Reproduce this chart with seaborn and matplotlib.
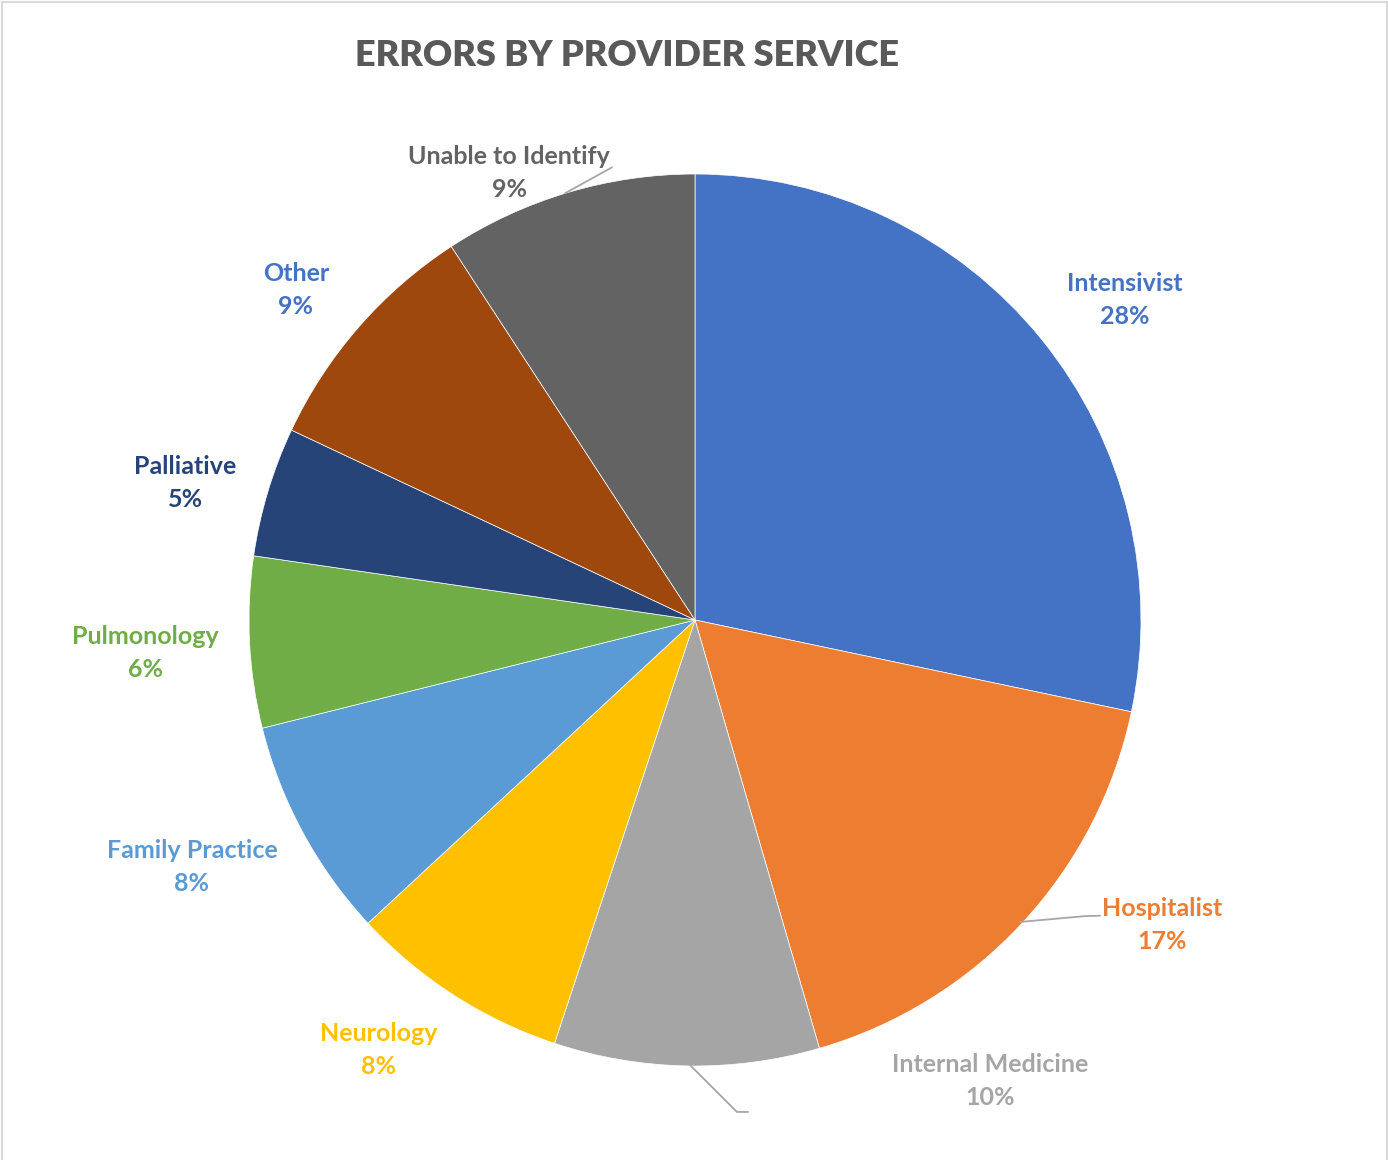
import numpy as np
import matplotlib.pyplot as plt
import seaborn as sns
from matplotlib.lines import Line2D

sns.set_theme(style='white')
plt.rcParams['font.family'] = ['Lato', 'DejaVu Sans']

# data (percent of errors)
services = ['Intensivist', 'Hospitalist', 'Internal Medicine', 'Neurology',
            'Family Practice', 'Pulmonology', 'Palliative', 'Other',
            'Unable to Identify']
shares = [28.3, 17.2, 9.6, 8.0, 8.0, 6.2, 4.7, 8.8, 9.2]
slice_colors = ['#4472C4', '#ED7D31', '#A5A5A5', '#FFC000', '#5B9BD5',
                '#70AD47', '#264478', '#9E480E', '#636363']
label_colors = ['#4472C4', '#ED7D31', '#A5A5A5', '#FFC000', '#5B9BD5',
                '#70AD47', '#264478', '#4472C4', '#636363']

# label centres in pie-radius units
label_pos = [(0.964, 0.717), (1.047, -0.684), (0.661, -1.034),
             (-0.709, -0.964), (-1.128, -0.554), (-1.233, -0.074),
             (-1.143, 0.307), (-0.895, 0.740), (-0.417, 1.002)]
leaders = {
    'Hospitalist': [(0.729, -0.677), (0.874, -0.664), (0.908, -0.663)],
    'Internal Medicine': [(-0.011, -0.998), (0.094, -1.103), (0.119, -1.103)],
    'Unable to Identify': [(-0.291, 0.957), (-0.186, 1.015)],
}

W, H = 1388, 1160
fig = plt.figure(figsize=(W / 100, H / 100), dpi=100)
cx, cy, r = 695, 620, 446
ax = fig.add_axes([(cx - r) / W, (H - cy - r) / H, 2 * r / W, 2 * r / H])

ax.pie(shares, colors=slice_colors, startangle=90, counterclock=False,
       radius=1, wedgeprops=dict(linewidth=0.5, edgecolor='white'))
ax.set_xlim(-1, 1)
ax.set_ylim(-1, 1)
ax.set_aspect('equal')
ax.axis('off')

for name, pts in leaders.items():
    xs, ys = zip(*pts)
    ax.add_line(Line2D(xs, ys, color='#A6A6A6', lw=1.3, clip_on=False))

for name, val, col, (lx, ly) in zip(services, shares, label_colors, label_pos):
    ax.text(lx, ly, f'{name}\n{round(val):.0f}%', ha='center', va='center',
            color=col, fontsize=18, fontweight='bold', linespacing=1.5,
            clip_on=False)

fig.text(627 / W, 1 - 56 / H, 'ERRORS BY PROVIDER SERVICE', ha='center',
         va='center', color='#595959', fontsize=26, fontweight='heavy')

# thin chart-area border (left, top, right)
border = dict(color='#D9D9D9', lw=1.5, transform=fig.transFigure)
fig.add_artist(Line2D([1.5 / W, 1.5 / W], [0, 1 - 1.5 / H], **border))
fig.add_artist(Line2D([1.5 / W, 1 - 1.5 / W], [1 - 1.5 / H, 1 - 1.5 / H], **border))
fig.add_artist(Line2D([1 - 1.5 / W, 1 - 1.5 / W], [0, 1 - 1.5 / H], **border))

fig.savefig('out.png', dpi=100, facecolor='white')
